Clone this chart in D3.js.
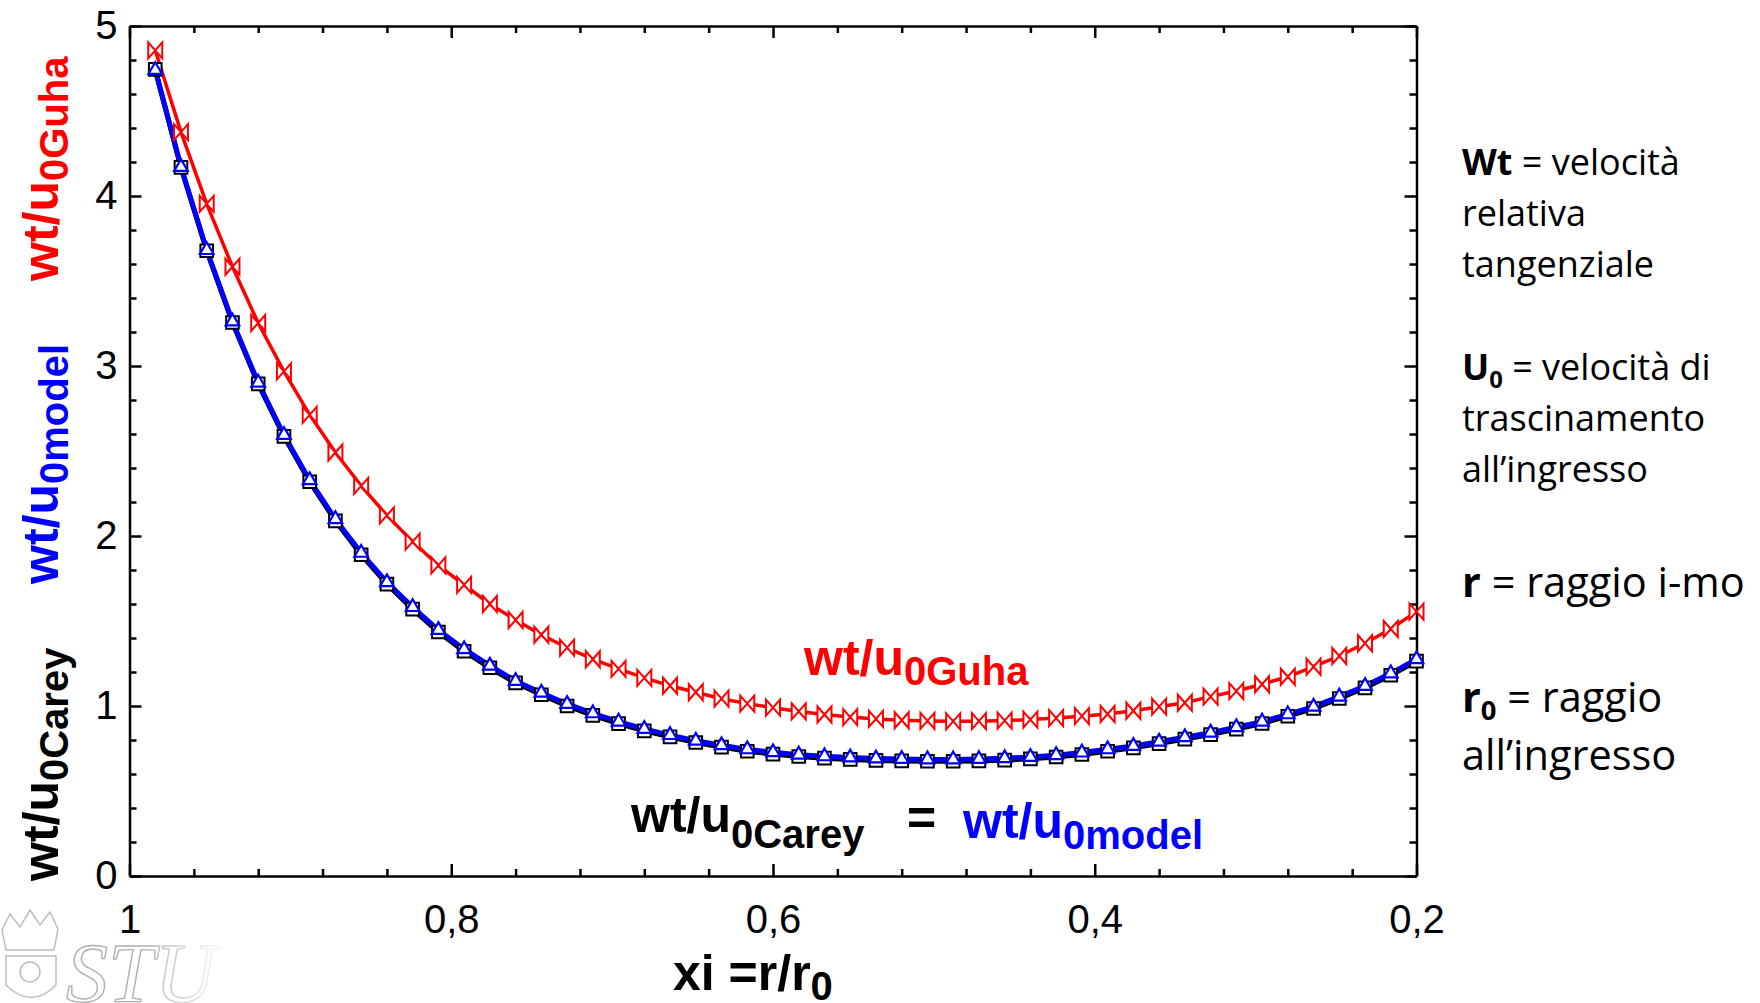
<!DOCTYPE html>
<html lang="it">
<head>
  <meta charset="utf-8">
  <title>wt/u0 - Guha, Carey, modello</title>
  <script src="https://d3js.org/d3.v7.min.js"></script>
  <style>
    body { margin: 0; background: #fff; }
    .asse path, .asse line { stroke: #000; stroke-width: 2.5; }
    .asse text { font-family: "Liberation Sans", Arial, sans-serif; fill: #000; }
    .etichetta { font-family: "Liberation Sans", Arial, sans-serif; font-weight: bold; }
    .legenda { font-family: "Open Sans", Lato, sans-serif; fill: #000; }
  </style>
</head>
<body>
  <div id="chart"></div>

  <script>
    "use strict"
    // ascissa xi = r/r0 (da 1 verso 0,2)
    var xi = [0.984, 0.968, 0.952, 0.936, 0.92, 0.904, 0.888, 0.872, 0.856, 0.84,
              0.824, 0.808, 0.792, 0.776, 0.76, 0.744, 0.728, 0.712, 0.696, 0.68,
              0.664, 0.648, 0.632, 0.616, 0.6, 0.584, 0.568, 0.552, 0.536, 0.52,
              0.504, 0.488, 0.472, 0.456, 0.44, 0.424, 0.408, 0.392, 0.376, 0.36,
              0.344, 0.328, 0.312, 0.296, 0.28, 0.264, 0.248, 0.232, 0.216, 0.2];
    // wt/u0 secondo Guha (rosso)
    var guha = [4.857, 4.376, 3.954, 3.584, 3.253, 2.968, 2.713, 2.491, 2.295, 2.121,
                1.967, 1.827, 1.712, 1.600, 1.506, 1.419, 1.343, 1.275, 1.218, 1.165,
                1.119, 1.081, 1.043, 1.014, 0.990, 0.968, 0.950, 0.935, 0.924, 0.916,
                0.912, 0.910, 0.911, 0.914, 0.920, 0.929, 0.940, 0.953, 0.972, 0.996,
                1.019, 1.055, 1.088, 1.128, 1.172, 1.231, 1.294, 1.369, 1.453, 1.555];
    // wt/u0 del modello (blu)
    var modello = [4.741, 4.171, 3.682, 3.262, 2.902, 2.594, 2.328, 2.099, 1.901, 1.728,
                   1.582, 1.447, 1.334, 1.237, 1.147, 1.078, 1.012, 0.957, 0.908, 0.865,
                   0.829, 0.796, 0.769, 0.745, 0.728, 0.714, 0.704, 0.697, 0.691, 0.688,
                   0.686, 0.686, 0.688, 0.693, 0.700, 0.711, 0.726, 0.745, 0.765, 0.790,
                   0.816, 0.843, 0.875, 0.908, 0.951, 0.996, 1.055, 1.118, 1.192, 1.275];
    // wt/u0 secondo Carey (nero)
    var carey = [4.745, 4.168, 3.678, 3.256, 2.895, 2.586, 2.319, 2.089, 1.890, 1.717,
                 1.570, 1.435, 1.322, 1.225, 1.136, 1.066, 1.000, 0.945, 0.896, 0.854,
                 0.818, 0.785, 0.758, 0.734, 0.717, 0.703, 0.693, 0.686, 0.680, 0.677,
                 0.675, 0.675, 0.677, 0.682, 0.689, 0.700, 0.715, 0.734, 0.754, 0.779,
                 0.805, 0.832, 0.864, 0.897, 0.940, 0.985, 1.044, 1.107, 1.181, 1.264];

    var xTicks = [1, 0.8, 0.6, 0.4, 0.2];
    var xTickLabels = ["1", "0,8", "0,6", "0,4", "0,2"];
    var xMinor = [0.96, 0.92, 0.88, 0.84, 0.76, 0.72, 0.68, 0.64, 0.56, 0.52, 0.48, 0.44, 0.36, 0.32, 0.28, 0.24];
    var yTicks = [0, 1, 2, 3, 4, 5];
    var yMinor = [0.2, 0.4, 0.6, 0.8, 1.2, 1.4, 1.6, 1.8, 2.2, 2.4, 2.6, 2.8, 3.2, 3.4, 3.6, 3.8, 4.2, 4.4, 4.6, 4.8];

    // testo a destra: [grassetto, pedice, resto]
    var legenda = [
      ["Wt", "", " = velocità"],
      ["", "", "relativa"],
      ["", "", "tangenziale"],
      ["U", "0", " = velocità di"],
      ["", "", "trascinamento"],
      ["", "", "all’ingresso"],
      ["r", "", " = raggio i-mo"],
      ["r", "0", " = raggio"],
      ["", "", "all’ingresso"]
    ];
    var legendaY = [175, 226, 277, 380, 431, 482, 597, 712, 770];
    var legendaFont = [36, 36, 36, 36, 36, 36, 41.5, 41.5, 41.5];

    var larguraSVG = 1760, alturaSVG = 1003;
    var margin = {top: 26, right: 343.5, bottom: 127, left: 129.5},
        larguraVis = larguraSVG - margin.left - margin.right,
        alturaVis = alturaSVG - margin.top - margin.bottom;

    var svg = d3.select('#chart')
      .append('svg')
        .attr('width', larguraSVG)
        .attr('height', alturaSVG);

    var grafico = svg.append('g')
        .attr('transform', 'translate(' + margin.left + ',' + margin.top + ')');

    /*
     * Scale
     */
    var x = d3.scaleLinear().domain([1, 0.2]).range([0, larguraVis]);
    var y = d3.scaleLinear().domain([0, 5]).range([alturaVis, 0]);

    /*
     * Assi: tacche verso l'interno su tutti e quattro i lati
     */
    function asse(gen, valori, lung, trasl, etichette) {
      var g = grafico.append('g')
        .attr('class', 'asse')
        .attr('transform', trasl)
        .call(gen.tickValues(valori).tickSize(-lung).tickSizeOuter(0)
                 .tickFormat(etichette ? (d, i) => etichette[i] : ""));
      g.attr('font-size', 40); // dopo la call, altrimenti d3 rimette 10
      return g;
    }
    asse(d3.axisBottom(x).tickPadding(29), xTicks, 12, 'translate(0,' + alturaVis + ')', xTickLabels);
    asse(d3.axisBottom(x), xMinor, 7, 'translate(0,' + alturaVis + ')').select('.domain').remove();
    asse(d3.axisTop(x), xTicks, 12, 'translate(0,0)');
    asse(d3.axisTop(x), xMinor, 7, 'translate(0,0)').select('.domain').remove();
    asse(d3.axisLeft(y).tickPadding(12), yTicks, 12, 'translate(0,0)', yTicks.map(String));
    asse(d3.axisLeft(y), yMinor, 7, 'translate(0,0)').select('.domain').remove();
    asse(d3.axisRight(y), yTicks, 12, 'translate(' + larguraVis + ',0)');
    asse(d3.axisRight(y), yMinor, 7, 'translate(' + larguraVis + ',0)').select('.domain').remove();

    /*
     * Linee e marcatori
     */
    var dati = xi.map((v, i) => ({xi: v, guha: guha[i], modello: modello[i], carey: carey[i]}));

    function linea(campo) {
      return d3.line().x(d => x(d.xi)).y(d => y(d[campo]));
    }

    grafico.append('path').datum(dati)
      .attr('d', linea('carey'))
      .attr('fill', 'none').attr('stroke', '#000').attr('stroke-width', 5);
    grafico.append('path').datum(dati)
      .attr('d', linea('modello'))
      .attr('fill', 'none').attr('stroke', '#0000ff').attr('stroke-width', 5);
    grafico.append('path').datum(dati)
      .attr('d', linea('guha'))
      .attr('fill', 'none').attr('stroke', '#ff0000').attr('stroke-width', 3.5);

    // quadrati neri (Carey)
    grafico.selectAll('.quadrato')
      .data(dati).enter()
      .append('path')
        .attr('class', 'quadrato')
        .attr('transform', d => 'translate(' + x(d.xi) + ',' + y(d.carey) + ')')
        .attr('d', d3.symbol(d3.symbolSquare, 160))
        .attr('fill', '#fff').attr('stroke', '#000').attr('stroke-width', 2);

    // triangoli blu (modello)
    grafico.selectAll('.triangolo')
      .data(dati).enter()
      .append('path')
        .attr('class', 'triangolo')
        .attr('transform', d => 'translate(' + x(d.xi) + ',' + y(d.modello) + ')')
        .attr('d', d3.symbol(d3.symbolTriangle, 80))
        .attr('fill', '#fff').attr('stroke', '#0000ff').attr('stroke-width', 2.2);

    // farfalle rosse (Guha)
    var farfalla = 'M-7,-8L7,8L7,-8L-7,8Z';
    grafico.selectAll('.farfalla')
      .data(dati).enter()
      .append('path')
        .attr('class', 'farfalla')
        .attr('transform', d => 'translate(' + x(d.xi) + ',' + y(d.guha) + ')')
        .attr('d', farfalla)
        .attr('fill', '#fff').attr('stroke', '#ff0000').attr('stroke-width', 2);

    /*
     * Testi con pedice
     */
    function testoPedice(px, py, base, pedice, colore, fsBase, fsPed, dyPed, ruota) {
      var t = svg.append('text')
        .attr('class', 'etichetta')
        .attr('fill', colore)
        .attr('x', px).attr('y', py);
      if (ruota) t.attr('transform', 'rotate(-90,' + px + ',' + py + ')');
      t.append('tspan').attr('font-size', fsBase).text(base);
      t.append('tspan').attr('font-size', fsPed).attr('dy', dyPed).text(pedice);
      return t;
    }

    // etichette nel grafico
    testoPedice(804, 675, 'wt/u', '0Guha', '#ff0000', 50, 40, 10);
    testoPedice(631, 832, 'wt/u', '0Carey', '#000', 50, 40, 16);
    svg.append('text').attr('class', 'etichetta').attr('x', 907).attr('y', 835)
      .attr('font-size', 50).text('=');
    testoPedice(963, 838, 'wt/u', '0model', '#0000ff', 50, 40, 11);

    // etichette asse y (ruotate)
    testoPedice(58, 281, 'wt/u', '0Guha', '#ff0000', 50, 40, 10, true);
    testoPedice(58, 584, 'wt/u', '0model', '#0000ff', 50, 40, 10, true);
    testoPedice(58, 881, 'wt/u', '0Carey', '#000', 50, 40, 10, true);

    // titolo asse x
    testoPedice(673, 990, 'xi =r/r', '0', '#000', 50, 40, 10);

    /*
     * Legenda a destra
     */
    legenda.forEach(function(r, i) {
      var fs = legendaFont[i];
      var t = svg.append('text').attr('class', 'legenda')
        .attr('font-size', fs)
        .attr('x', 1462).attr('y', legendaY[i]);
      if (r[0]) t.append('tspan').attr('font-weight', 'bold').text(r[0]);
      if (r[1]) t.append('tspan').attr('font-weight', 'bold').attr('font-size', fs * 0.66).attr('dy', 8).text(r[1]);
      t.append('tspan').attr('dy', r[1] ? -8 : 0).text(r[2]);
    });

    /*
     * Filigrana in basso a sinistra
     */
    var defs = svg.append('defs');
    var sfuma = defs.append('linearGradient').attr('id', 'sfuma')
      .attr('gradientUnits', 'userSpaceOnUse')
      .attr('x1', 140).attr('x2', 230).attr('y1', 0).attr('y2', 0);
    sfuma.append('stop').attr('offset', 0).attr('stop-color', '#b0b0b0');
    sfuma.append('stop').attr('offset', 1).attr('stop-color', '#ffffff');

    var filigrana = svg.append('g').attr('fill', 'none').attr('stroke', '#bdbdbd').attr('stroke-width', 1.5);
    filigrana.append('path')
      .attr('d', 'M2,930 L10,914 L20,927 L30,910 L40,925 L50,912 L58,929 L54,950 L6,950 Z');
    filigrana.append('path')
      .attr('d', 'M6,956 L56,956 L56,985 Q31,1010 6,985 Z');
    filigrana.append('circle').attr('cx', 30).attr('cy', 972).attr('r', 10);
    svg.append('text')
      .attr('x', 66).attr('y', 1002)
      .attr('font-family', '"Liberation Serif", serif')
      .attr('font-style', 'italic')
      .attr('font-size', 84)
      .attr('fill', '#fff').attr('stroke', 'url(#sfuma)').attr('stroke-width', 1.4)
      .text('STU');
  </script>
</body>
</html>
